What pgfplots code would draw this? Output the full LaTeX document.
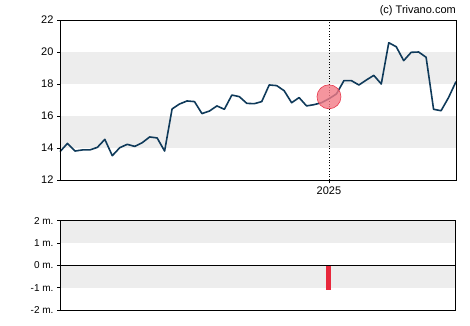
\documentclass[border=0pt]{standalone}
\usepackage{fontspec}
\setmainfont{Liberation Sans}
\usepackage{pgfplots}
\pgfplotsset{compat=1.18}
\definecolor{bandgray}{HTML}{EDEDED}
\definecolor{linecol}{HTML}{0F3A5A}
\definecolor{circfill}{HTML}{F27A86}
\definecolor{circedge}{HTML}{E8384C}
\definecolor{barred}{HTML}{E8283C}
\pgfplotstableread{
x y
0 13.77
1 14.29
2 13.81
3 13.88
4 13.88
5 14.04
6 14.54
7 13.52
8 14.02
9 14.23
10 14.10
11 14.33
12 14.69
13 14.63
14 13.81
15 16.44
16 16.75
17 16.94
18 16.90
19 16.15
20 16.31
21 16.63
22 16.42
23 17.31
24 17.21
25 16.79
26 16.77
27 16.90
28 17.94
29 17.90
30 17.58
31 16.83
32 17.15
33 16.63
34 16.71
35 16.83
36 17.08
37 17.38
38 18.21
39 18.21
40 17.94
41 18.25
42 18.54
43 18.00
44 20.58
45 20.33
46 19.46
47 19.98
48 20.00
49 19.67
50 16.42
51 16.33
52 17.15
53 18.15
}\pricedata
\begin{document}
\begin{tikzpicture}
\useasboundingbox (0pt,0pt) rectangle (470pt,325pt);
\begin{axis}[
  at={(60pt,145pt)}, anchor=south west,
  scale only axis, width=396pt, height=160pt,
  xmin=0, xmax=53, ymin=12, ymax=22,
  ytick={12,14,...,22}, xtick={36}, xticklabels={2025},
  tick align=outside, tick pos=left, major tick length=3pt,
  axis line style={line width=0.8pt},
  tick style={black, line width=0.8pt},
  ticklabel style={font=\fontsize{11}{13}\selectfont},
  /pgf/number format/assume math mode=true,
  axis on top, clip=false,
]
\fill[bandgray] (axis cs:0,14) rectangle (axis cs:53,16);
\fill[bandgray] (axis cs:0,18) rectangle (axis cs:53,20);
\draw[black, dotted, line width=0.8pt] (axis cs:36,12) -- (axis cs:36,22);
\addplot[linecol, line width=1.6pt, mark=none, line join=round] table[x=x,y=y] {\pricedata};
\addplot[only marks, mark=*, mark size=12pt, mark options={fill=circfill, draw=circedge, fill opacity=0.8, line width=0.6pt}] coordinates {(36,17.2)};
\node[anchor=base east, font=\fontsize{11}{13}\selectfont, inner sep=0pt] at ([yshift=7pt]rel axis cs:1,1) {(c) Trivano.com};
\end{axis}
\begin{axis}[
  at={(60pt,15pt)}, anchor=south west,
  scale only axis, width=395pt, height=89.3pt,
  xmin=0, xmax=53, ymin=-2, ymax=2,
  ytick={-2,-1,0,1,2}, yticklabels={-2 m.,-1 m.,0 m.,1 m.,2 m.},
  xtick=\empty,
  tick align=outside, tick pos=left, major tick length=3pt,
  axis line style={line width=0.8pt},
  tick style={black, line width=0.8pt},
  ticklabel style={font=\fontsize{10}{12}\selectfont},
  axis on top,
]
\fill[bandgray] (axis cs:0,1) rectangle (axis cs:53,2);
\fill[bandgray] (axis cs:0,-1) rectangle (axis cs:53,0);
\addplot[ybar, bar width=5pt, fill=barred, draw=none] coordinates {(36,-1.1)};
\draw[black, line width=0.8pt] (axis cs:0,0) -- (axis cs:53,0);
\end{axis}
\end{tikzpicture}
\end{document}
